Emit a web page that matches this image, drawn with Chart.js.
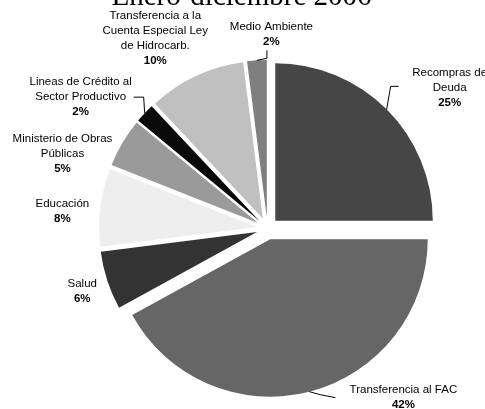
<!DOCTYPE html>
<html>
<head>
<meta charset="utf-8">
<script src="https://cdn.jsdelivr.net/npm/chart.js@4.4.0/dist/chart.umd.min.js"></script>
<style>
body { margin: 0; background: #fff; }
#wrap { width: 485px; height: 409px; }
</style>
</head>
<body>
<div id="wrap"><canvas id="myChart"></canvas></div>
<script>
// data
var chartTitle = 'Enero-diciembre 2006';
var categories = [
  ['Recompras de', 'Deuda'],
  ['Transferencia al FAC'],
  ['Salud'],
  ['Educación'],
  ['Ministerio de Obras', 'Públicas'],
  ['Lineas de Crédito al', 'Sector Productivo'],
  ['Transferencia a la', 'Cuenta Especial Ley', 'de Hidrocarb.'],
  ['Medio Ambiente']
];
var shares = [25, 42, 6, 8, 5, 2, 10, 2];

// styles
var sliceColors = ['#464646', '#666666', '#333333', '#eeeeee', '#9a9a9a', '#0a0a0a', '#c0c0c0', '#7f7f7f'];
var explode = 11;
// label centre, relative to the outer mid point of each slice
var labelShift = [[63, -22], [94, 5.5], [-25, 11], [-38, 4], [-60, 11], [-64, -16], [-40.5, -37.5], [14.5, -26.5]];
// leader line points, relative to the label centre
var leaders = [[[-59, -1], [-51, -1]], [[-83, -2.5], [-68, 0.5]], null, null, null, [[63, 0], [53, 0]], null, [[-4.5, 24.5], [-4.5, 16.5]]];

var total = shares.reduce(function (a, b) { return a + b; }, 0);

var explodePlugin = {
  id: 'explode',
  beforeDatasetDraw: function (chart, args) {
    var ctx = chart.ctx;
    args.meta.data.forEach(function (arc) {
      var mid = (arc.startAngle + arc.endAngle) / 2;
      ctx.save();
      ctx.translate(Math.cos(mid) * explode, Math.sin(mid) * explode);
      arc.draw(ctx);
      ctx.restore();
    });
    return false;
  }
};

var labelPlugin = {
  id: 'sliceLabels',
  afterDraw: function (chart) {
    var ctx = chart.ctx;
    var meta = chart.getDatasetMeta(0);
    ctx.save();
    // title
    ctx.fillStyle = '#000';
    ctx.font = '29px "Liberation Serif", "Times New Roman", serif';
    ctx.textAlign = 'center';
    ctx.textBaseline = 'alphabetic';
    ctx.fillText(chartTitle, 241.5, 5);

    meta.data.forEach(function (arc, i) {
      var mid = (arc.startAngle + arc.endAngle) / 2;
      var r = arc.outerRadius + explode;
      var ox = arc.x + Math.cos(mid) * r;
      var oy = arc.y + Math.sin(mid) * r;
      var cx = ox + labelShift[i][0];
      var cy = oy + labelShift[i][1];
      if (leaders[i]) {
        ctx.strokeStyle = '#000';
        ctx.lineWidth = 1;
        ctx.beginPath();
        ctx.moveTo(ox, oy);
        leaders[i].forEach(function (p) { ctx.lineTo(cx + p[0], cy + p[1]); });
        ctx.stroke();
      }
      var lines = categories[i].slice();
      var pct = Math.round(shares[i] / total * 100) + '%';
      lines.push(pct);
      var n = lines.length;
      ctx.textAlign = 'center';
      ctx.textBaseline = 'middle';
      ctx.fillStyle = '#000';
      lines.forEach(function (t, k) {
        ctx.font = (k === n - 1 ? 'bold ' : '') + '11.5px "Liberation Sans", Arial, sans-serif';
        ctx.fillText(t, cx, cy + (k - (n - 1) / 2) * 15);
      });
    });
    ctx.restore();
  }
};

var ctx = document.getElementById('myChart').getContext('2d');
var chart = new Chart(ctx, {
  type: 'pie',
  data: {
    labels: categories.map(function (c) { return c.join(' '); }),
    datasets: [{
      data: shares,
      backgroundColor: sliceColors,
      borderWidth: 0,
      radius: 157.5
    }]
  },
  options: {
    responsive: true,
    maintainAspectRatio: false,
    animation: false,
    layout: { padding: { left: 50, right: 0, top: 48, bottom: 0 } },
    plugins: {
      legend: { display: false },
      tooltip: { enabled: false },
      title: { display: false }
    }
  },
  plugins: [explodePlugin, labelPlugin]
});
</script>
</body>
</html>
